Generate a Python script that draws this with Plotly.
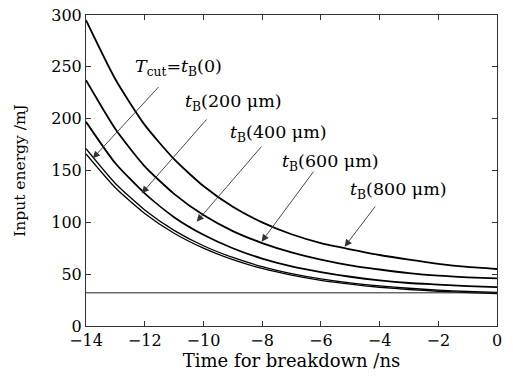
import plotly.graph_objects as go

# Time for breakdown (ns)
t_ns = [-14, -13, -12, -11, -10, -9, -8, -7, -6, -5, -4, -3, -2, -1, 0]

# Input energy (mJ)
e_800 = [295, 238, 194, 161, 135, 115, 100, 88.5, 80, 74, 68.5, 64, 60, 57, 55]
e_600 = [237, 190, 154, 127.5, 107, 91.5, 80, 71, 64, 58.5, 54.5, 51, 48.5, 47, 46]
e_400 = [197, 157, 128, 105, 88, 75, 65, 57.5, 52, 47.5, 44, 41.5, 40, 38.5, 37.5]
e_200 = [171, 137.5, 112, 92.3, 77.4, 66.1, 57.3, 50.6, 45.5, 41.6, 38.7, 36.4, 34.6, 33.3, 32.3]
e_0 = [166, 133.4, 108.6, 89.5, 75.1, 64, 55.5, 49, 44, 40.3, 37.4, 35.2, 33.5, 32.2, 31.2]

threshold = 32  # horizontal reference line (mJ)

x_ticks = [-14, -12, -10, -8, -6, -4, -2, 0]
y_ticks = [0, 50, 100, 150, 200, 250, 300]

# label text, arrow tip (t, E), arrow tail (t, E), label centre (t, E)
labels = ["<i>T</i><sub>cut</sub>=<i>t</i><sub>B</sub>(0)",
          "<i>t</i><sub>B</sub>(200 μm)",
          "<i>t</i><sub>B</sub>(400 μm)",
          "<i>t</i><sub>B</sub>(600 μm)",
          "<i>t</i><sub>B</sub>(800 μm)"]
tip_t = [-13.77, -12.1, -10.23, -8.02, -5.19]
tip_e = [161.7, 128, 100.6, 81.3, 76.5]
tail_t = [-11.48, -9.85, -7.98, -6.21, -4.11]
tail_e = [232, 200.6, 174.5, 150.4, 116.7]
lab_t = [-10.85, -8.96, -7.46, -5.66, -3.36]
lab_e = [249, 216, 186, 158, 131]

FONT = "DejaVu Serif"

fig = go.Figure()
for ys, w in [(e_800, 1.8), (e_600, 1.8), (e_400, 1.8), (e_200, 1.3), (e_0, 1.3)]:
    fig.add_trace(go.Scatter(x=t_ns, y=ys, mode="lines",
                             line=dict(color="black", width=w, shape="spline", smoothing=0.6),
                             showlegend=False, hoverinfo="skip"))
fig.add_trace(go.Scatter(x=[t_ns[0], t_ns[-1]], y=[threshold, threshold], mode="lines",
                         line=dict(color="#222", width=1), showlegend=False, hoverinfo="skip"))

for i in range(len(labels)):
    fig.add_annotation(x=tip_t[i], y=tip_e[i], ax=tail_t[i], ay=tail_e[i],
                       axref="x", ayref="y", xref="x", yref="y", text="",
                       showarrow=True, arrowhead=2, arrowsize=1.6, arrowwidth=0.9,
                       arrowcolor="#333")
    fig.add_annotation(x=lab_t[i], y=lab_e[i], xref="x", yref="y", text=labels[i],
                       showarrow=False, font=dict(family=FONT, size=17.5, color="black"))

axis_common = dict(showline=True, linecolor="#333", linewidth=1, mirror="ticks",
                   ticks="inside", ticklen=5, tickcolor="#333", showgrid=False,
                   zeroline=False, automargin=False,
                   tickfont=dict(family=FONT, size=16, color="black"))
fig.update_xaxes(range=[-14, 0], tickvals=x_ticks,
                 title=dict(text="Time for breakdown /ns", font=dict(family=FONT, size=18, color="black"), standoff=0),
                 **axis_common)
fig.update_yaxes(range=[0, 300], tickvals=y_ticks,
                 title=dict(text="Input energy /mJ", font=dict(family=FONT, size=15.5, color="black"), standoff=21),
                 **axis_common)
fig.update_layout(width=513, height=377, margin=dict(l=86, r=16, t=15, b=51),
                  plot_bgcolor="white", paper_bgcolor="white")
fig.write_html("out.html", config={"displayModeBar": False},
               post_script="document.body.style.margin='0';")
